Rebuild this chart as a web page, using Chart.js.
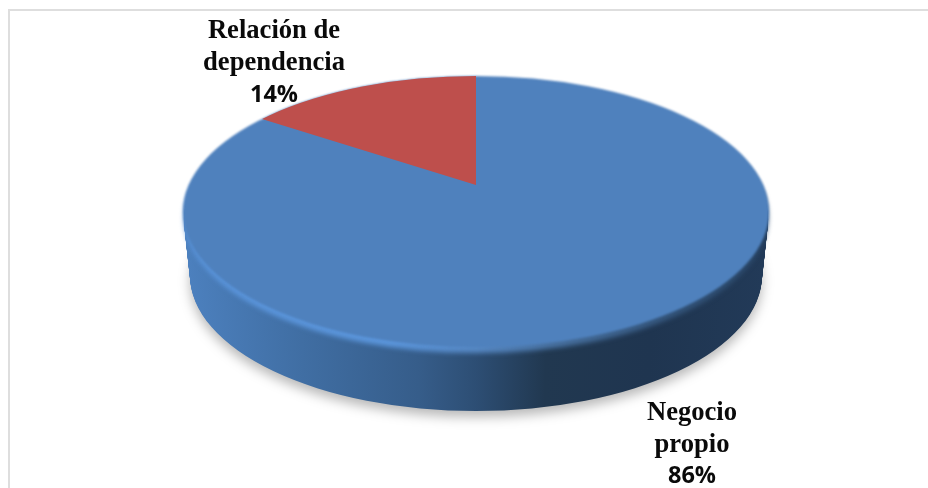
<!DOCTYPE html>
<html>
<head>
<meta charset="utf-8">
<script src="https://cdn.jsdelivr.net/npm/chart.js@4"></script>
<style>
  html, body { margin: 0; padding: 0; background: #fff; }
  #wrap { position: relative; width: 928px; height: 488px; overflow: hidden; }
  #frame { position: absolute; left: 8px; top: 9px; right: -4px; bottom: -4px; border: 2px solid #dedede; }
  canvas { position: absolute; left: 0; top: 0; }
</style>
</head>
<body>
<div id="wrap">
  <div id="frame"></div>
  <canvas id="pieChart" width="928" height="488"></canvas>
</div>
<script>
const categories = ['Negocio propio', 'Relación de dependencia'];
const values = [86, 14];
const percentLabels = ['86%', '14%'];
const labelLines = [['Negocio', 'propio'], ['Relación de', 'dependencia']];
const colors = ['#4f81bd', '#be4f4c'];

// Look of the tilted disc, in page pixels
const top3d = { x: 476, y: 211.5, rx: 293, ry: 135.5 };
const apex = { x: 476, y: 185, rx: 322, ry: 120 };
const depth = 64;
const bottomRx = 286;
const labelPos = [
    { x: 692, y: [420, 452, 483] },
    { x: 274, y: [38, 70, 102] }
];

// Puts the library's arcs under a transform that squashes them to an ellipse
function squash(ctx, arc, e) {
    const r = arc.outerRadius;
    ctx.translate(e.x, e.y);
    ctx.scale(e.rx / r, e.ry / r);
    ctx.translate(-arc.x, -arc.y);
}

function drawArc(ctx, arc, fill) {
    const saved = arc.options;
    arc.options = { ...saved, backgroundColor: fill, borderWidth: 0 };
    arc.draw(ctx);
    arc.options = saved;
}

// The whole disc in one path, so a blur leaves no seam between the slices
function drawDisc(ctx, arc, fill) {
    const { startAngle, endAngle, circumference } = arc;
    arc.startAngle = -Math.PI / 2;
    arc.endAngle = Math.PI * 1.5;
    arc.circumference = Math.PI * 2;
    drawArc(ctx, arc, fill);
    arc.startAngle = startAngle;
    arc.endAngle = endAngle;
    arc.circumference = circumference;
}

function sideGradient(ctx, arc, stops) {
    const r = arc.outerRadius;
    const g = ctx.createLinearGradient(arc.x - r, 0, arc.x + r, 0);
    stops.forEach(s => g.addColorStop(s[0], s[1]));
    return g;
}

const sideStops = [[0, '#4c80be'], [0.2, '#406ea3'], [0.4, '#365d8a'], [0.5, '#2d4e74'], [0.62, '#213850'], [0.8, '#1f3550'], [1, '#223a58']];
const rimStops = [[0, '#5a94da'], [0.35, '#5b96dc'], [0.5, '#5688c4'], [0.65, '#47709f'], [0.85, '#33547a'], [1, '#2c4a6c']];

const pie3d = {
    id: 'pie3d',
    beforeDatasetDraw(chart) {
        const ctx = chart.ctx;
        const arcs = chart.getDatasetMeta(0).data;

        // side wall, from the lowest layer up to just under the face
        for (let i = depth; i >= 8; i -= 1) {
            const t = i / depth;
            const e = { x: top3d.x, y: top3d.y + i, rx: top3d.rx + (bottomRx - top3d.rx) * t, ry: top3d.ry };
            ctx.save();
            if (i === depth) {
                ctx.shadowColor = 'rgba(0,0,0,0.28)';
                ctx.shadowBlur = 12;
                ctx.shadowOffsetY = 6;
            }
            squash(ctx, arcs[0], e);
            drawDisc(ctx, arcs[0], sideGradient(ctx, arcs[0], sideStops));
            ctx.restore();
        }

        // light bevel around the front edge
        ctx.save();
        ctx.filter = 'blur(2.5px)';
        squash(ctx, arcs[0], { x: top3d.x, y: top3d.y + 6, rx: top3d.rx - 1, ry: top3d.ry });
        drawDisc(ctx, arcs[0], sideGradient(ctx, arcs[0], rimStops));
        ctx.restore();

        // face
        ctx.save();
        ctx.filter = 'blur(1.2px)';
        squash(ctx, arcs[0], top3d);
        drawDisc(ctx, arcs[0], colors[0]);
        ctx.restore();

        // red slice: its tip sits behind the ellipse centre because of the perspective
        ctx.save();
        ctx.beginPath();
        ctx.ellipse(top3d.x, top3d.y, top3d.rx, top3d.ry, 0, 0, Math.PI * 2);
        ctx.clip();
        squash(ctx, arcs[1], apex);
        drawArc(ctx, arcs[1], colors[1]);
        ctx.restore();
        return false;
    },
    afterDraw(chart) {
        const ctx = chart.ctx;
        ctx.save();
        ctx.fillStyle = '#0a0a0a';
        ctx.textAlign = 'center';
        ctx.textBaseline = 'alphabetic';
        labelPos.forEach((p, i) => {
            ctx.font = 'bold 26.6px "Liberation Serif"';
            labelLines[i].forEach((line, j) => ctx.fillText(line, p.x, p.y[j]));
            ctx.font = 'bold 23.5px "Open Sans"';
            ctx.fillText(percentLabels[i], p.x, p.y[2]);
        });
        ctx.restore();
    }
};

new Chart(document.getElementById('pieChart'), {
    type: 'pie',
    data: {
        labels: categories,
        datasets: [{ data: values, backgroundColor: colors, borderWidth: 0 }]
    },
    options: {
        responsive: false,
        animation: false,
        plugins: { legend: { display: false }, tooltip: { enabled: false } }
    },
    plugins: [pie3d]
});
</script>
</body>
</html>
